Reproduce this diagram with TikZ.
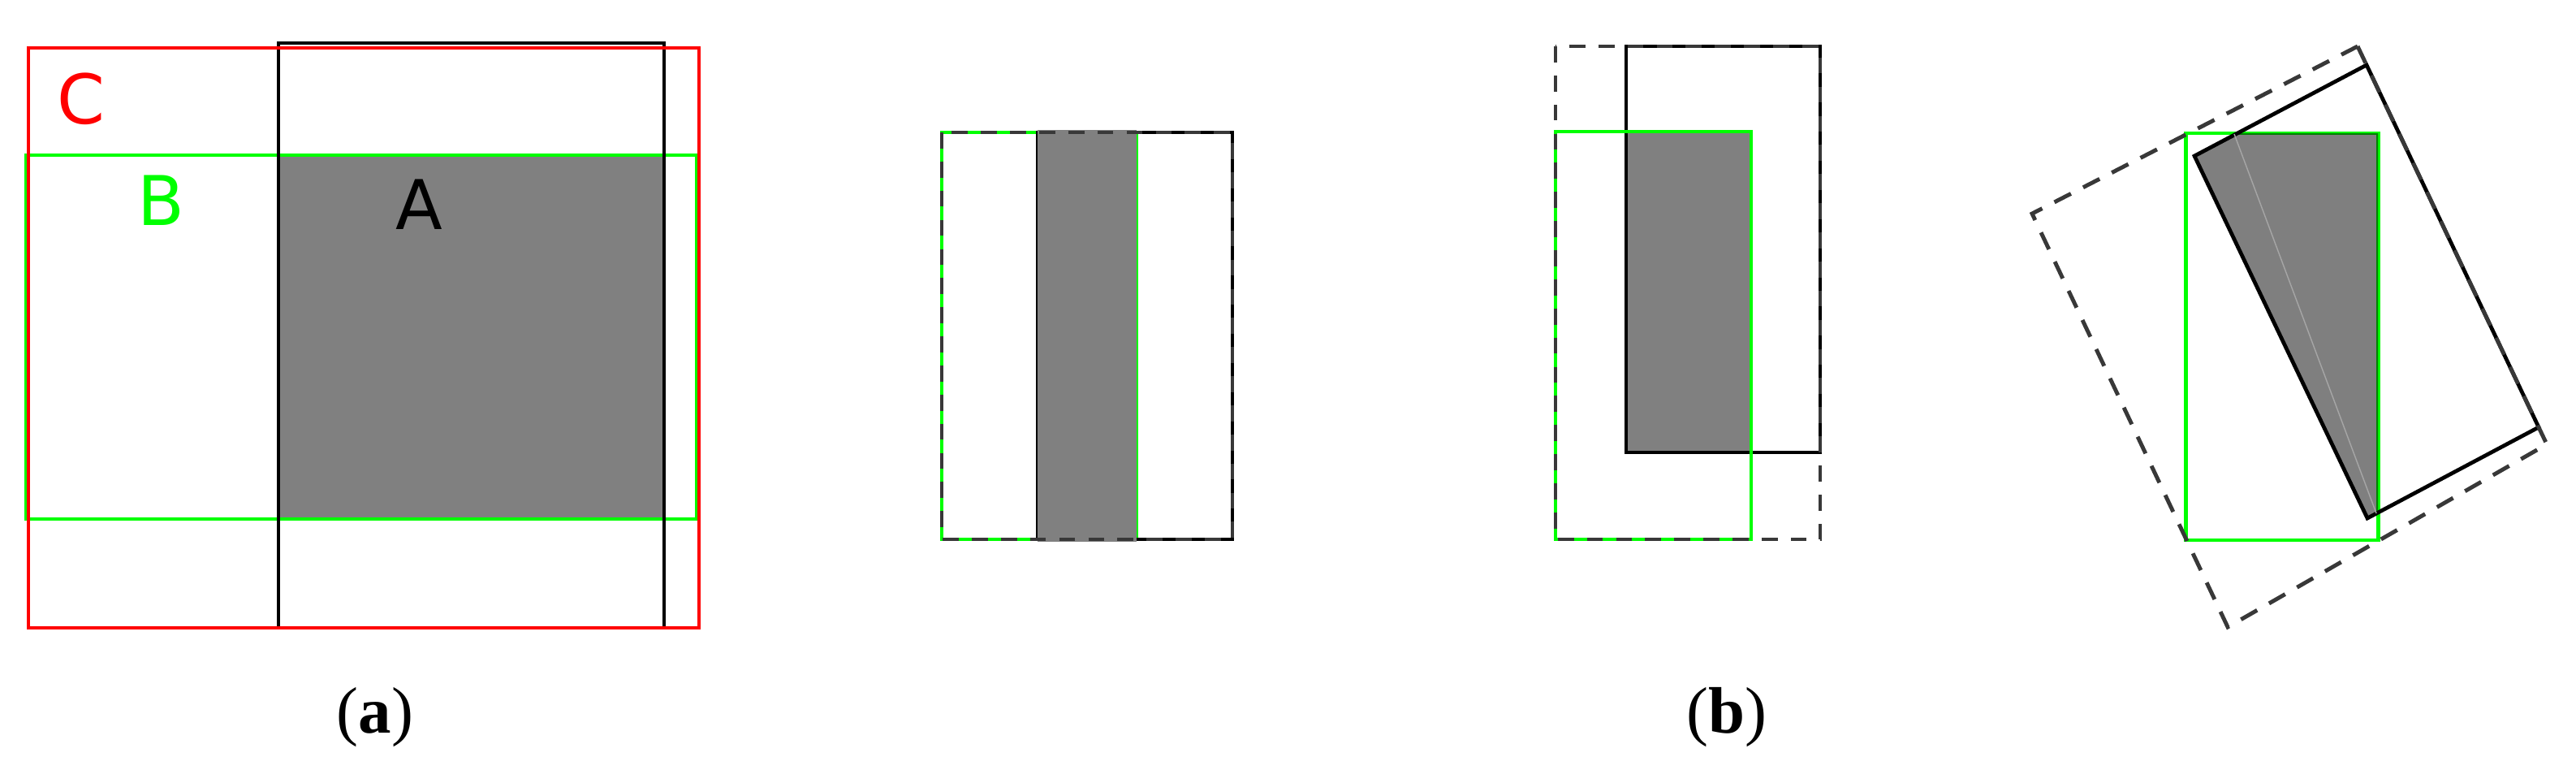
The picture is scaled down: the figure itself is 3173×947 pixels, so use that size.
\documentclass[tikz,border=0pt]{standalone}
\usepackage{fontspec}
\setmainfont{Liberation Serif}
\newfontfamily\labelfont{DejaVu Sans}
\usetikzlibrary{calc}
\definecolor{boxgreen}{RGB}{0,255,0}
\definecolor{boxred}{RGB}{255,0,0}
\tikzstyle{truth} = [
    draw=black, 
    line width=1.35pt
]
\tikzstyle{pred} = [
    draw=boxgreen, 
    line width=1.4pt
]
\tikzstyle{hull} = [
    draw=boxred, 
    line width=1.35pt
]
\tikzstyle{hulldash} = [
    draw=black!78, 
    line width=1.4pt, 
    dash pattern=on 5.6pt off 4.6pt
]
\tikzstyle{overlap} = [fill=gray]
\tikzstyle{letter} = [
    inner sep=0pt, 
    font=\labelfont\fontsize{24}{28}\selectfont
]
\tikzstyle{caption} = [
    inner sep=0pt, 
    anchor=base, 
    font=\fontsize{23}{28}\selectfont
]
\begin{document}
\begin{tikzpicture}[x=0.01cm, y=-0.01cm]
    \useasboundingbox (0,0) rectangle (3173,947);
    
    % (a) boxes A, B and C
    \fill[overlap] (343,191) rectangle (818,639);
    \draw[pred] (32,191) rectangle (858,639);
    \draw[truth] (343,53) rectangle (818,773);
    \draw[hull] (35,59) rectangle (861,773);
    
    \node[letter, text=boxred] (labC) at (100,122) {C};
    \node[letter, text=boxgreen] (labB) at (198,247) {B};
    \node[letter] (labA) at (516,252) {A};
    
    % (b) side shift
    \draw[pred] (1160,163) rectangle (1400,664);
    \draw[truth] (1278,163) rectangle (1518,664);
    \fill[overlap] (1278,160) rectangle (1400,667);
    \draw[hulldash] (1160,163) rectangle (1518,664);
    
    % (b) diagonal shift
    \fill[overlap] (2003,162) rectangle (2157,557);
    \draw[truth] (2003,57) rectangle (2242,557);
    \draw[pred] (1916,162) rectangle (2157,664);
    \draw[hulldash] (1916,57) rectangle (2242,664);
    
    % (b) rotation
    \coordinate (rot_top) at (2915,80);
    \coordinate (rot_right) at (3127,526);
    \coordinate (rot_bottom) at (2916,638);
    \coordinate (rot_left) at (2703,192);
    
    \coordinate (hull_top) at (2904,57);
    \coordinate (hull_right) at (3137,547);
    \coordinate (hull_bottom) at (2744,772);
    \coordinate (hull_left) at (2503,263);
    
    \draw[pred] (2692,164) rectangle (2929,665);
    \draw[truth] (rot_top) -- (rot_right) -- (rot_bottom) -- (rot_left) -- cycle;
    \begin{scope}
        \clip (2692,164) rectangle (2929,665);
        \fill[black, fill opacity=0.5] (rot_top) -- (rot_right) -- (rot_bottom) -- (rot_left) -- cycle;
    \end{scope}
    \draw[gray!70, line width=0.4pt] (2752,165) -- (2927,632);
    \draw[hulldash, dash pattern=on 6.5pt off 4.8pt] (hull_top) -- (hull_right) -- (hull_bottom) -- (hull_left) -- cycle;
    
    % Captions
    \node[caption] (capa) at (462,902) {(\textbf{a})};
    \node[caption] (capb) at (2127,902) {(\textbf{b})};
\end{tikzpicture}
\end{document}
